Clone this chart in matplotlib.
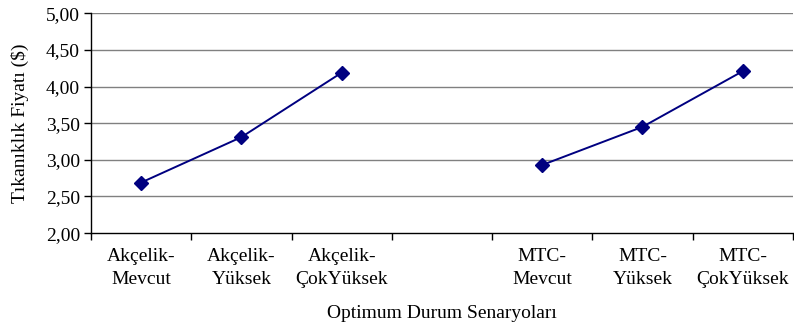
import numpy as np
import matplotlib
matplotlib.use("Agg")
import matplotlib.pyplot as plt
from matplotlib.ticker import FixedLocator, FuncFormatter

plt.rcParams['font.family'] = ['Liberation Serif', 'DejaVu Serif']

categories = ["Akçelik-\nMevcut", "Akçelik-\nYüksek", "Akçelik-\nÇokYüksek", "",
              "MTC-\nMevcut", "MTC-\nYüksek", "MTC-\nÇokYüksek"]
values = [2.69, 3.31, 4.19, np.nan, 2.93, 3.45, 4.21]
y_ticks = [2.0, 2.5, 3.0, 3.5, 4.0, 4.5, 5.0]

fig = plt.figure(figsize=(7.94, 3.33), dpi=100)
ax = fig.add_axes([0.1146, 0.30, 0.884, 0.66])

x = np.arange(len(categories))
ax.plot(x, values, color='#000080', lw=1.4, marker='D', markersize=7,
        markerfacecolor='#000080', markeredgecolor='#000080', zorder=3)

ax.set_xlim(-0.5, len(categories) - 0.5)
ax.set_ylim(2.0, 5.0)

ax.set_yticks(y_ticks)
ax.yaxis.set_major_formatter(FuncFormatter(lambda v, p: f"{v:.2f}".replace('.', ',')))
for yv in y_ticks[1:]:
    ax.axhline(yv, color='#808080', lw=1.0, zorder=1)

# boundaries get the tick marks, category centres get the labels
ax.xaxis.set_major_locator(FixedLocator(np.arange(-0.5, len(categories), 1.0)))
ax.xaxis.set_major_formatter(FuncFormatter(lambda v, p: ""))
ax.xaxis.set_minor_locator(FixedLocator(x))
ax.set_xticklabels(categories, minor=True)
ax.tick_params(axis='x', which='major', direction='out', length=5, width=1, color='black')
ax.tick_params(axis='x', which='minor', length=0, pad=11, labelsize=14)
ax.tick_params(axis='y', direction='out', length=5, width=1, labelsize=14, pad=3)

for lab in ax.get_xticklabels(minor=True):
    lab.set_linespacing(1.45)

for side in ['top', 'right']:
    ax.spines[side].set_visible(False)
ax.spines['left'].set_color('black')
ax.spines['bottom'].set_color('black')
ax.spines['left'].set_linewidth(1)
ax.spines['bottom'].set_linewidth(1)

ax.set_ylabel("Tıkanıklık Fiyatı ($)", fontsize=14, labelpad=12)
ax.set_xlabel("Optimum Durum Senaryoları", fontsize=14, labelpad=12)

fig.savefig("out.png", dpi=100)
